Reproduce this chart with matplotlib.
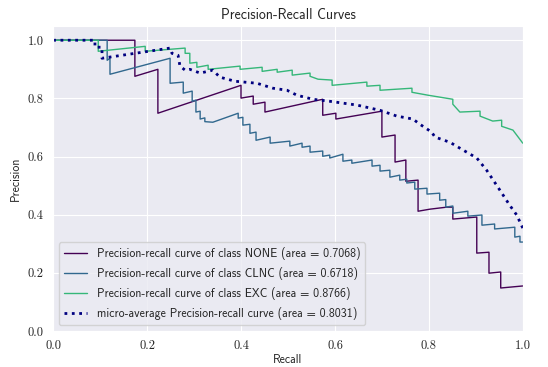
import matplotlib
matplotlib.use("Agg")
import matplotlib.pyplot as plt
import seaborn as sns

# values (recall, precision)
none_recall = [0.0, 0.174, 0.174, 0.223, 0.223, 0.400, 0.400, 0.426, 0.426, 0.451, 0.451,
               0.574, 0.574, 0.602, 0.602, 0.700, 0.700, 0.728, 0.728, 0.751, 0.751,
               0.777, 0.777, 0.802, 0.838, 0.851, 0.851, 0.902, 0.902, 0.928, 0.928,
               0.953, 0.953, 1.0]
none_precision = [1.0, 1.0, 0.876, 0.900, 0.749, 0.845, 0.801, 0.808, 0.780, 0.787, 0.753,
                  0.797, 0.742, 0.749, 0.729, 0.756, 0.667, 0.674, 0.581, 0.588, 0.515,
                  0.519, 0.412, 0.419, 0.426, 0.426, 0.385, 0.392, 0.268, 0.271, 0.199,
                  0.203, 0.148, 0.155]

clnc_recall = [0.0, 0.115, 0.115, 0.121, 0.121, 0.249, 0.249, 0.277, 0.277, 0.296, 0.296,
               0.304, 0.304, 0.313, 0.313, 0.323, 0.323, 0.340, 0.394, 0.394, 0.404, 0.404,
               0.419, 0.419, 0.432, 0.432, 0.462, 0.462, 0.504, 0.504, 0.530, 0.530,
               0.547, 0.547, 0.574, 0.574, 0.589, 0.589, 0.617, 0.617, 0.636, 0.636,
               0.679, 0.679, 0.696, 0.696, 0.717, 0.717, 0.738, 0.738, 0.753, 0.753,
               0.770, 0.770, 0.796, 0.796, 0.823, 0.823, 0.836, 0.836, 0.851, 0.851,
               0.883, 0.883, 0.913, 0.913, 0.940, 0.940, 0.983, 0.983, 0.994, 0.994, 1.0]
clnc_precision = [1.0, 1.0, 0.931, 0.938, 0.883, 0.938, 0.852, 0.856, 0.818, 0.825, 0.790,
                  0.794, 0.753, 0.756, 0.729, 0.733, 0.720, 0.718, 0.749, 0.732, 0.735, 0.708,
                  0.711, 0.680, 0.684, 0.656, 0.667, 0.646, 0.653, 0.636, 0.646, 0.632,
                  0.636, 0.615, 0.619, 0.601, 0.605, 0.595, 0.608, 0.584, 0.588, 0.577,
                  0.588, 0.567, 0.570, 0.550, 0.553, 0.529, 0.536, 0.519, 0.522, 0.509,
                  0.512, 0.488, 0.491, 0.471, 0.474, 0.450, 0.452, 0.426, 0.430, 0.405,
                  0.412, 0.395, 0.399, 0.364, 0.368, 0.351, 0.357, 0.323, 0.326, 0.306, 0.306]

exc_recall = [0.0, 0.096, 0.096, 0.196, 0.196, 0.281, 0.281, 0.291, 0.291, 0.306, 0.306,
              0.330, 0.330, 0.398, 0.398, 0.445, 0.445, 0.477, 0.477, 0.509, 0.509,
              0.547, 0.547, 0.564, 0.594, 0.594, 0.668, 0.668, 0.696, 0.696, 0.764, 0.764,
              0.798, 0.851, 0.851, 0.866, 0.909, 0.909, 0.936, 0.955, 0.955, 0.979, 1.0]
exc_precision = [1.0, 1.0, 0.962, 0.979, 0.962, 0.973, 0.955, 0.955, 0.921, 0.924, 0.907,
                 0.914, 0.900, 0.911, 0.900, 0.907, 0.893, 0.900, 0.890, 0.897, 0.880,
                 0.887, 0.876, 0.866, 0.863, 0.845, 0.856, 0.842, 0.845, 0.828, 0.835, 0.821,
                 0.811, 0.797, 0.780, 0.753, 0.756, 0.739, 0.722, 0.725, 0.704, 0.691, 0.646]

micro_recall = [0.0, 0.089, 0.089, 0.104, 0.104, 0.249, 0.253, 0.266, 0.270, 0.281, 0.291,
                0.313, 0.340, 0.355, 0.387, 0.434, 0.468, 0.498, 0.519, 0.553, 0.589,
                0.647, 0.696, 0.732, 0.766, 0.781, 0.806, 0.813, 0.845, 0.870, 0.902,
                0.923, 0.951, 0.972, 0.987, 1.0]
micro_precision = [1.0, 1.0, 0.976, 0.976, 0.938, 0.973, 0.955, 0.948, 0.911, 0.897, 0.900,
                   0.887, 0.897, 0.873, 0.859, 0.852, 0.835, 0.828, 0.811, 0.797, 0.790,
                   0.777, 0.759, 0.739, 0.729, 0.711, 0.684, 0.667, 0.649, 0.625, 0.595,
                   0.553, 0.485, 0.433, 0.399, 0.354]

class_names = ["NONE", "CLNC", "EXC"]
class_areas = [0.7068, 0.6718, 0.8766]
micro_area = 0.8031
class_colors = [plt.cm.viridis(0.0), plt.cm.viridis(1 / 3), plt.cm.viridis(2 / 3)]

sns.set_style("darkgrid")
plt.rcParams["font.family"] = ["cmss10", "DejaVu Sans"]
plt.rcParams["axes.formatter.use_mathtext"] = True

fig, ax = plt.subplots(figsize=(5.48, 3.67), dpi=100)
fig.subplots_adjust(left=0.097, right=0.954, bottom=0.098, top=0.930)

curves = [(none_recall, none_precision), (clnc_recall, clnc_precision),
          (exc_recall, exc_precision)]
for (rec, prec), name, area, col in zip(curves, class_names, class_areas, class_colors):
    ax.plot(rec, prec, color=col, lw=1,
            label="Precision-recall curve of class {0} (area = {1:0.4f})".format(name, area))

ax.plot(micro_recall, micro_precision, color="navy", linestyle=":", lw=2,
        label="micro-average Precision-recall curve (area = {0:0.4f})".format(micro_area))

ax.set_xlim(0.0, 1.0)
ax.set_ylim(0.0, 1.05)
ticks = [0.0, 0.2, 0.4, 0.6, 0.8, 1.0]
ax.set_xticks(ticks)
ax.set_yticks(ticks)
ax.set_xticklabels(["{:.1f}".format(t) for t in ticks], family="cmr10", fontsize=9)
ax.set_yticklabels(["{:.1f}".format(t) for t in ticks], family="cmr10", fontsize=9)
ax.tick_params(axis="x", pad=3)
ax.set_xlabel("Recall", fontsize=8.5, labelpad=1)
ax.set_ylabel("Precision", fontsize=8.5, labelpad=4)
ax.set_title("Precision-Recall Curves", fontsize=10, pad=5)
ax.legend(loc="lower left", fontsize=8.5, labelspacing=0.6)

fig.savefig("out.png", dpi=100)
